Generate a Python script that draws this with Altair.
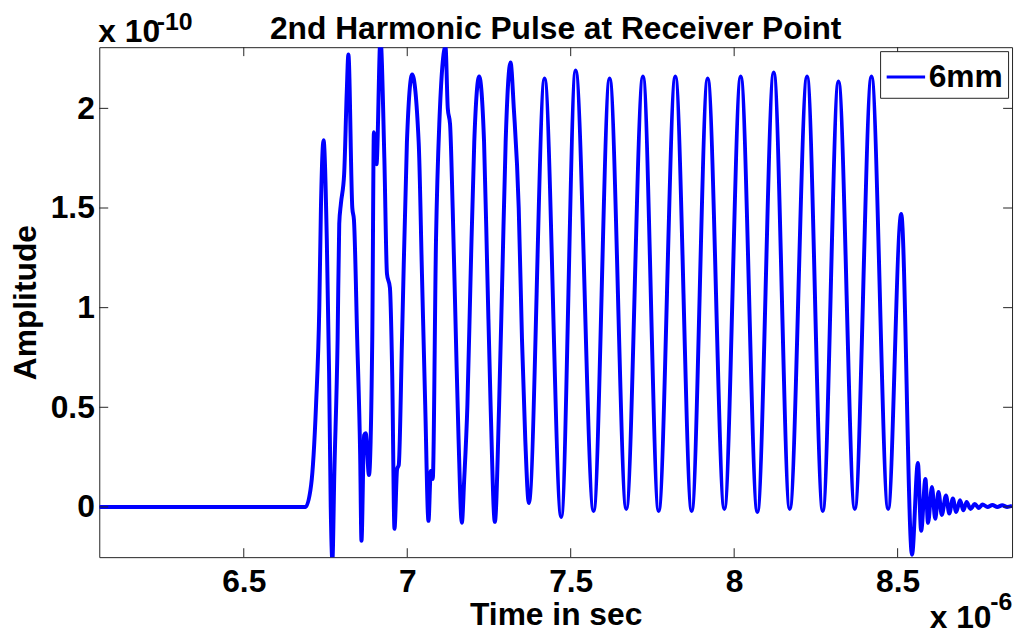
import altair as alt
import pandas as pd

# ---- data (time in units of 1e-6 s, amplitude in units of 1e-10) ----
time_us = [
    6.058, 6.689, 6.706, 6.721, 6.731, 6.736, 6.744, 6.754, 6.761, 6.766,
    6.771, 6.777, 6.787, 6.792, 6.797, 6.807, 6.815, 6.820, 6.832, 6.837,
    6.847, 6.856, 6.860, 6.868, 6.873, 6.883, 6.893, 6.898, 6.906, 6.918,
    6.930, 6.938, 6.947, 6.954, 6.961, 6.969, 6.974, 6.984, 6.999, 7.015,
    7.035, 7.045, 7.055, 7.065, 7.072, 7.078, 7.088, 7.098, 7.117, 7.124,
    7.131, 7.139, 7.149, 7.157, 7.167, 7.174, 7.184, 7.194, 7.205, 7.220,
    7.235, 7.245, 7.255, 7.268, 7.281, 7.291, 7.301, 7.316, 7.326, 7.341,
    7.351, 7.361, 7.372, 7.420, 7.471, 7.515, 7.570, 7.619, 7.670, 7.721,
    7.769, 7.820, 7.870, 7.919, 7.970, 8.020, 8.071, 8.121, 8.170, 8.223,
    8.271, 8.319, 8.369, 8.420, 8.471, 8.511, 8.544, 8.562, 8.572, 8.585,
    8.593, 8.605, 8.615, 8.625, 8.635, 8.648, 8.658, 8.669, 8.679, 8.691,
    8.701, 8.711, 8.723, 8.736, 8.748, 8.760, 8.775, 8.790, 8.805, 8.820,
    8.835, 8.850,
]
amp_e10 = [
    0.0, 0.0, 0.11, 0.51, 1.0, 1.5, 1.84, 1.34, 0.67, 0.0,
    -0.27, 0.17, 0.84, 1.42, 1.52, 1.67, 2.08, 2.27, 1.50, 1.44,
    0.84, 0.26, -0.17, 0.36, 0.37, 0.16, 0.84, 1.88, 1.72, 2.35,
    1.75, 1.17, 1.10, 0.67, -0.11, 0.19, 0.21, 0.84, 1.83, 2.17,
    1.83, 1.17, 0.51, -0.07, 0.18, 0.14, 1.34, 1.92, 2.31, 2.0,
    1.92, 1.50, 0.84, 0.34, -0.08, 0.13, 0.51, 1.17, 1.83, 2.16,
    1.83, 1.17, 0.51, -0.075, 0.51, 1.17, 1.83, 2.23, 2.0, 1.50,
    0.84, 0.34, 0.02, 2.15, -0.05, 2.19, -0.02, 2.15, -0.01, 2.16,
    -0.02, 2.16, -0.02, 2.15, -0.01, 2.16, -0.025, 2.18, -0.01, 2.16,
    -0.02, 2.135, -0.01, 2.16, -0.01, 1.47, -0.24, 0.22, -0.12, 0.14,
    -0.08, 0.10, -0.06, 0.075, -0.04, 0.058, -0.033, 0.042, -0.025, 0.033,
    -0.017, 0.025, -0.01, 0.015, -0.005, 0.012, 0.0, 0.01, 0.0, 0.008,
    0.0, 0.005,
]
series_name = "6mm"
x_ticks = [6.5, 7, 7.5, 8, 8.5]
y_ticks = [0, 0.5, 1, 1.5, 2]

title_text = "2nd Harmonic Pulse at Receiver Point"
x_title = "Time in sec"
y_title = "Amplitude"
y_exp_base, y_exp_sup = "x 10", "-10"
x_exp_base, x_exp_sup = "x 10", "-6"

# ---- layout / style ----
W, H = 920, 514
X_DOMAIN = [6.058, 8.85]
Y_DOMAIN = [-0.252, 2.307]
FONT = "Liberation Sans"
AX = "#222222"
BLUE = "#0000ff"
FS = 32
SUP = 25
TICK = 9

df = pd.DataFrame({"t": time_us, "a": amp_e10, "series": [series_name] * len(time_us)})
xt = pd.DataFrame({"t": x_ticks})
yt = pd.DataFrame({"a": y_ticks})

x_scale = alt.Scale(domain=X_DOMAIN, nice=False, zero=False)
y_scale = alt.Scale(domain=Y_DOMAIN, nice=False, zero=False)

line = alt.Chart(df).mark_line(
    clip=True, strokeWidth=4, interpolate="monotone"
).encode(
    x=alt.X("t:Q", scale=x_scale,
            axis=alt.Axis(values=x_ticks, format="~g", title=x_title,
                          labelPadding=10, titlePadding=2)),
    y=alt.Y("a:Q", scale=y_scale,
            axis=alt.Axis(values=y_ticks, format="~g", title=y_title,
                          labelPadding=5, titlePadding=8)),
    color=alt.Color("series:N", scale=alt.Scale(range=[BLUE]),
                    legend=alt.Legend(title=None, orient="top-right", offset=4,
                                      padding=5, strokeColor=AX, fillColor="white",
                                      cornerRadius=0, symbolType="stroke",
                                      symbolStrokeWidth=3, symbolSize=1500,
                                      labelFontSize=FS, labelFont=FONT,
                                      labelFontWeight="bold", labelColor="black",
                                      labelOffset=2)),
)

def xrule(y0, y1):
    return alt.Chart(xt).mark_rule(color=AX, strokeWidth=1).encode(
        x=alt.X("t:Q", scale=x_scale), y=alt.value(y0), y2=alt.value(y1))

def yrule(x0, x1):
    return alt.Chart(yt).mark_rule(color=AX, strokeWidth=1).encode(
        y=alt.Y("a:Q", scale=y_scale), x=alt.value(x0), x2=alt.value(x1))

ticks = [xrule(H, H - TICK), xrule(0, TICK), yrule(0, TICK), yrule(W - TICK, W)]

def label(text, x, y, size, align="left"):
    return alt.Chart(pd.DataFrame({"s": [text]})).mark_text(
        align=align, baseline="alphabetic", font=FONT, fontWeight="bold",
        fontSize=size, color="black"
    ).encode(x=alt.value(x), y=alt.value(y), text="s:N")

annotations = [
    label(title_text, W / 2, -8, FS, align="center"),
    label(y_exp_base, -1, -5, FS),
    label(y_exp_sup, 58, -17, SUP),
    label(x_exp_base, 837, 585, FS),
    label(x_exp_sup, 898, 567, SUP),
]

chart = alt.layer(line, *ticks, *annotations).properties(
    width=W, height=H,
    autosize=alt.AutoSizeParams(type="none"),
    padding={"left": 92, "top": 37, "right": 6, "bottom": 80},
).configure_view(
    stroke=AX, strokeWidth=1
).configure_axis(
    domain=False, ticks=False, grid=False,
    labelFont=FONT, labelFontSize=FS, labelFontWeight="bold", labelColor="black",
    titleFont=FONT, titleFontSize=FS, titleFontWeight="bold", titleColor="black",
)

chart.save("out.html", embed_options={"renderer": "svg", "actions": False})
